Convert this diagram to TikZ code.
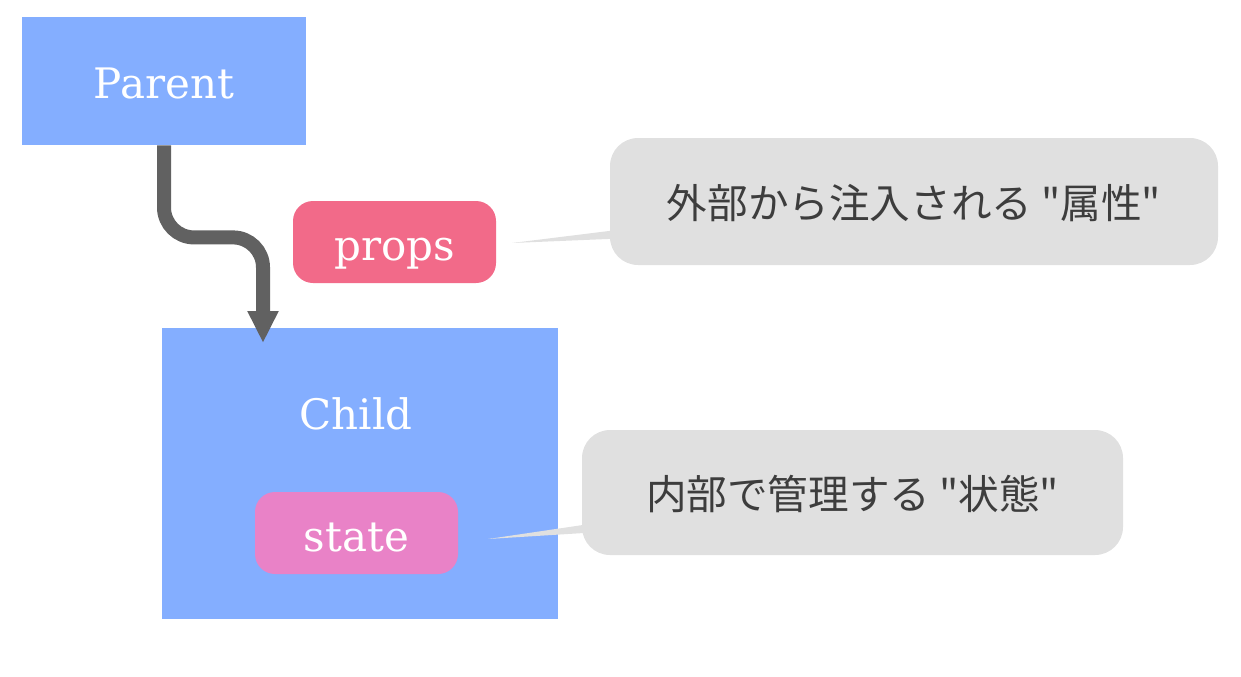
\documentclass[tikz,border=0pt]{standalone}
\usepackage{fontspec}
\usepackage{xcolor}
\usepackage{tikz}
\usetikzlibrary{arrows.meta,calc}
\setmainfont{DejaVu Serif}
\newfontfamily\jpfont{Noto Sans CJK JP}
\definecolor{boxblue}{HTML}{84AEFF}
\definecolor{propspink}{HTML}{F26A89}
\definecolor{statepink}{HTML}{E982C7}
\definecolor{notegray}{HTML}{E0E0E0}
\definecolor{notetext}{HTML}{3D3D3D}
\definecolor{flowgray}{HTML}{616161}

\begin{document}
\begin{tikzpicture}[x=0.5pt,y=-0.5pt,
	comp/.style={rectangle,fill=boxblue,text=white,font=\fontsize{21}{25}\selectfont,inner sep=0pt,text height=19pt,text depth=2pt},
	tag/.style={rectangle,rounded corners=10pt,text=white,font=\fontsize{21}{25}\selectfont,minimum width=101.5pt,minimum height=41pt,inner sep=0pt,text height=20pt,text depth=2pt},
	note/.style={rectangle,rounded corners=14pt,fill=notegray,text=notetext,font=\jpfont\fontsize{20.3}{24}\selectfont,inner sep=0pt,text height=17.8pt,text depth=1.2pt},
	flow/.style={draw=flowgray,line width=7pt,rounded corners=15pt,-{Triangle[width=14.5pt,length=16pt]}}]
		\useasboundingbox (0,0) rectangle (1241,676);
		\node[comp,minimum width=142pt,minimum height=64pt] (parent) at (164,81) {Parent};
		\node[comp,minimum width=198pt,minimum height=145.5pt] (child) at (360,473.5) {};
		\node[comp,fill=none] (childname) at (356,412) {Child};
		\node[tag,fill=propspink] (props) at (394.5,242) {props};
		\node[tag,fill=statepink] (state) at (356.5,533) {state};
		\coordinate (entry) at (263,343);

		\draw[flow] (parent.south) -- ++(0,92) -| (entry);

		\node[note,minimum width=304pt,minimum height=63.5pt] (propsnote) at (914,201.5) {外部から注入される "属性"};
		\node[note,minimum width=270.5pt,minimum height=62.5pt] (statenote) at (852.5,492.5) {内部で管理する "状態"};
		\coordinate (propstip) at (512,243);
		\coordinate (statetip) at (488,539);

		\fill[notegray] (propstip) -- ($(propsnote.south west)+(12,-36)$) -- ($(propsnote.south west)+(12,-27)$) -- cycle;
		\fill[notegray] (statetip) -- ($(statenote.south west)+(12,-32)$) -- ($(statenote.south west)+(12,-23)$) -- cycle;
	\end{tikzpicture}
\end{document}
